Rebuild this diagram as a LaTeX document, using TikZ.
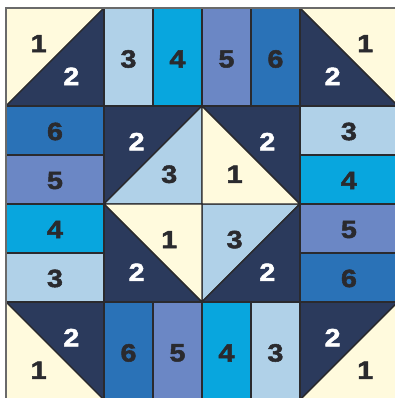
\documentclass[tikz,border=0pt]{standalone}
\usepackage{fontspec}
\setmainfont{Liberation Sans}
\newfontfamily\numfont{Liberation Sans}[FakeBold=2,FakeStretch=1.15]
\usepackage{tikz}
\usetikzlibrary{calc}
\definecolor{piece1}{HTML}{FFFADD}
\definecolor{piece2}{HTML}{2B3A5C}
\definecolor{piece3}{HTML}{B0D1E8}
\definecolor{piece4}{HTML}{08A6DE}
\definecolor{piece5}{HTML}{6B87C5}
\definecolor{piece6}{HTML}{2A72B7}
\definecolor{seam}{HTML}{2A2A2E}
\definecolor{edgegray}{HTML}{6A6A6A}
% number colour for each piece
\colorlet{ink1}{seam}
\colorlet{ink2}{white}
\colorlet{ink3}{seam}

\begin{document}
\begin{tikzpicture}[x=2cm,y=-2cm,
  patch/.style={draw=seam,line width=0.8pt,line join=round},
  num/.style={font=\fontsize{14.5}{16}\numfont\bfseries,text=seam,inner sep=0pt}]
\useasboundingbox (-0.061,-0.082) rectangle (3.969,3.980);
\clip (-0.061,-0.082) rectangle (3.969,3.980);
% triangle squares, seam from lower left to upper right
\foreach \x/\y/\a/\b in {0/0/1/2, 1/1/2/3, 2/2/3/2, 3/3/2/1} {
  \filldraw[patch,fill=piece\a] (\x,\y) -- (\x+1,\y) -- (\x,\y+1) -- cycle;
  \filldraw[patch,fill=piece\b] (\x+1,\y) -- (\x+1,\y+1) -- (\x,\y+1) -- cycle;
  \node[num,text=ink\a] (t-\x-\y-a) at ($(\x+1/3,\y+1/3)+(0,0.03)$) {\a};
  \node[num,text=ink\b] (t-\x-\y-b) at ($(\x+2/3,\y+2/3)+(0,0.03)$) {\b};
}
% triangle squares, seam from upper left to lower right
\foreach \x/\y/\a/\b in {3/0/1/2, 2/1/2/1, 1/2/1/2, 0/3/2/1} {
  \filldraw[patch,fill=piece\a] (\x,\y) -- (\x+1,\y) -- (\x+1,\y+1) -- cycle;
  \filldraw[patch,fill=piece\b] (\x,\y) -- (\x+1,\y+1) -- (\x,\y+1) -- cycle;
  \node[num,text=ink\a] (u-\x-\y-a) at ($(\x+2/3,\y+1/3)+(0,0.03)$) {\a};
  \node[num,text=ink\b] (u-\x-\y-b) at ($(\x+1/3,\y+2/3)+(0,0.03)$) {\b};
}
% upright strips
\foreach \x/\y/\a/\b in {1/0/3/4, 2/0/5/6, 1/3/6/5, 2/3/4/3} {
  \filldraw[patch,fill=piece\a] (\x,\y) rectangle (\x+0.5,\y+1);
  \filldraw[patch,fill=piece\b] (\x+0.5,\y) rectangle (\x+1,\y+1);
  \node[num] (v-\x-\y-a) at (\x+0.25,\y+0.52) {\a};
  \node[num] (v-\x-\y-b) at (\x+0.75,\y+0.52) {\b};
}
% lying strips
\foreach \x/\y/\a/\b in {0/1/6/5, 3/1/3/4, 0/2/4/3, 3/2/5/6} {
  \filldraw[patch,fill=piece\a] (\x,\y) rectangle (\x+1,\y+0.5);
  \filldraw[patch,fill=piece\b] (\x,\y+0.5) rectangle (\x+1,\y+1);
  \node[num] (h-\x-\y-a) at (\x+0.5,\y+0.26) {\a};
  \node[num] (h-\x-\y-b) at (\x+0.5,\y+0.76) {\b};
}
\draw[edgegray,line width=1pt] (0,0) rectangle (4,4);
\end{tikzpicture}
\end{document}
